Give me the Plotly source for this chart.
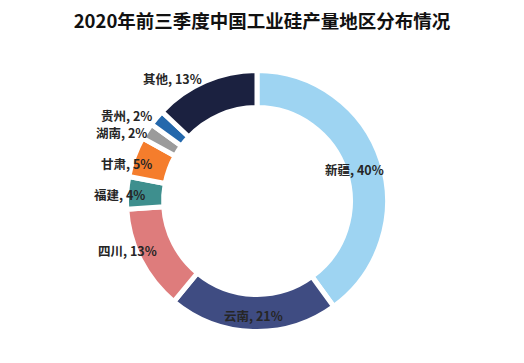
import math
import plotly.graph_objects as go

regions = ["新疆", "云南", "四川", "福建", "甘肃", "湖南", "贵州", "其他"]
shares = [40, 21, 13, 4, 5, 2, 2, 13]
colors = ["#9ED4F2", "#3F4C82", "#DE7C7C", "#3E8F8E", "#F57D2C", "#9B9B9B", "#2468AC", "#1B2140"]

# label placement (radius in px from centre, anchor)
label_r = [102, 115, 110, 110, 110, 128, 134, 134]
label_anchor = ["center", "center", "right", "right", "right", "right", "right", "right"]

# page body has an 8px margin; work in figure coordinates
OFF = 8
W, H = 524 - 2 * OFF, 363 - 2 * OFF
cx, cy = 257 - OFF, 201 - OFF
R = 130.5

fig = go.Figure(go.Pie(
    labels=regions,
    values=shares,
    sort=False,
    direction="clockwise",
    rotation=0,
    hole=0.716,
    marker=dict(colors=colors, line=dict(color="white", width=5)),
    textinfo="none",
    showlegend=False,
    domain=dict(x=[(cx - R) / W, (cx + R) / W], y=[(H - cy - R) / H, (H - cy + R) / H]),
))

total = sum(shares)
cum = 0
annotations = []
for name, v, r, anc in zip(regions, shares, label_r, label_anchor):
    mid = (cum + v / 2) / total * 2 * math.pi
    cum += v
    px = cx + r * math.sin(mid)
    py = cy - r * math.cos(mid)
    annotations.append(dict(
        x=px / W, y=(H - py) / H, xref="paper", yref="paper",
        text=f"<b>{name}, {round(v / total * 100)}%</b>",
        showarrow=False, xanchor=anc, yanchor="middle",
        font=dict(family="Noto Sans CJK SC", size=12.5, color="#262626"),
    ))

fig.update_layout(
    width=W, height=H,
    margin=dict(l=0, r=0, t=0, b=0),
    paper_bgcolor="white",
    title=dict(
        text="<b>2020年前三季度中国工业硅产量地区分布情况</b>",
        x=(262 - OFF) / W, xanchor="center", y=1 - (22 - OFF) / H, yanchor="middle",
        font=dict(family="Noto Sans CJK SC", size=18.5, color="#111111"),
    ),
    annotations=annotations,
)

fig.write_html("out.html")
